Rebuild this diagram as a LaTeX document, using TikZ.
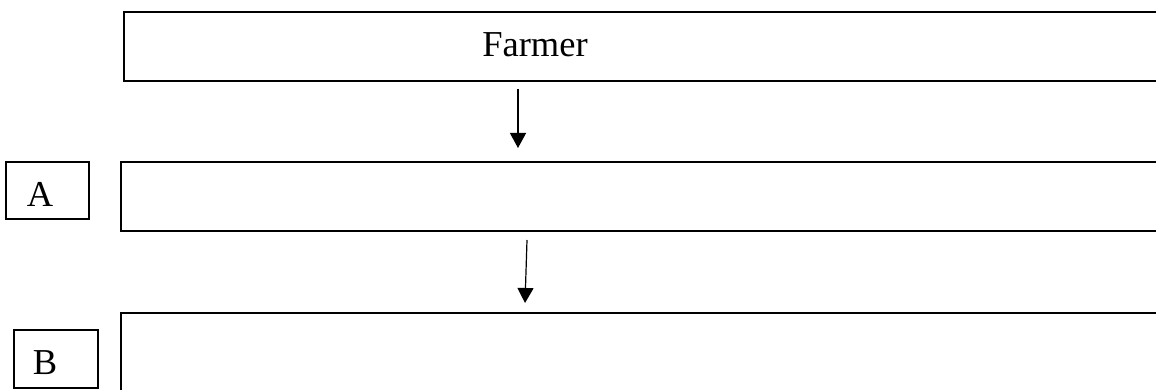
\documentclass[tikz,border=0pt]{standalone}
\usepackage{fontspec}
\setmainfont{Liberation Serif}
\usetikzlibrary{arrows.meta}
\tikzset{
  bigbox/.style={draw=black, line width=2pt, rectangle, inner sep=0pt, anchor=north west},
  lblbox/.style={draw=black, line width=1.7pt, rectangle, inner sep=0pt, anchor=north west},
  txt/.style={font=\fontsize{36.5}{43}\selectfont, inner sep=0pt},
  flow/.style={line width=1.2pt, -{Triangle[length=15pt,width=16pt]}}
}
\begin{document}
\begin{tikzpicture}[x=1pt,y=-1pt]
\useasboundingbox (0,0) rectangle (1156,390);
\clip (0,0) rectangle (1156,390);
% big boxes (extend past the right/bottom edges)
\node[bigbox, minimum width=1060pt, minimum height=69pt] (farmer) at (123,11) {};
\node[bigbox, minimum width=1060pt, minimum height=69pt] (boxA) at (120,161) {};
\node[bigbox, minimum width=1060pt, minimum height=100pt] (boxB) at (120,312) {};
% label boxes
\node[lblbox, minimum width=83pt, minimum height=57pt] (lblA) at (5,161) {};
\node[lblbox, minimum width=84pt, minimum height=58pt] (lblB) at (13,329) {};
% texts
\node[txt, anchor=base] (tF) at (535,57) {Farmer};
\node[txt, anchor=base] (tA) at (40,207) {A};
\node[txt, anchor=base] (tB) at (45,374) {B};
% arrows
\coordinate (a1s) at (518,89);
\coordinate (a1e) at (518,148);
\coordinate (a2s) at (527,240);
\coordinate (a2e) at (525,303);
\draw[flow] (a1s) -- (a1e);
\draw[flow] (a2s) -- (a2e);
\end{tikzpicture}
\end{document}
